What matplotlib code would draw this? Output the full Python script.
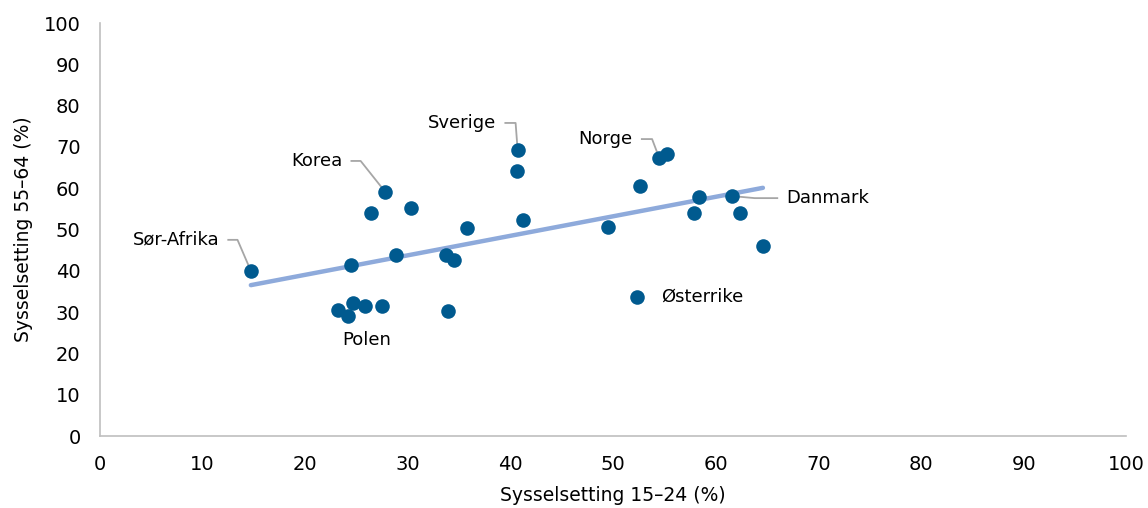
import numpy as np
import matplotlib
matplotlib.use("Agg")
import matplotlib.pyplot as plt

# sysselsetting 15-24 (x) og 55-64 (y), prosent
young = [14.7, 24.5, 23.2, 24.2, 24.7, 25.8, 27.5, 27.8, 26.4, 30.3,
         28.8, 33.7, 34.5, 33.9, 35.8, 40.7, 40.6, 41.2, 49.5, 52.3,
         52.6, 54.5, 55.3, 58.4, 57.9, 61.6, 62.4, 64.6]
old = [40.0, 41.4, 30.5, 29.0, 32.2, 31.5, 31.5, 59.1, 54.0, 55.2,
       43.8, 43.8, 42.6, 30.3, 50.4, 69.2, 64.2, 52.3, 50.6, 33.7,
       60.5, 67.3, 68.3, 57.9, 54.0, 58.1, 54.0, 46.0]

ticks = list(range(0, 101, 10))

plt.rcParams['font.family'] = ['DejaVu Sans']

fig = plt.figure(figsize=(11.48, 5.08), dpi=100)
ax = fig.add_axes([0.0871, 0.1417, 0.981 - 0.0871, 0.9547 - 0.1417])

dot = '#005A8F'
lead = '#A6A6A6'

# lineær trendlinje
x = np.array(young)
y = np.array(old)
k, m = np.polyfit(x, y, 1)
xs = np.array([x.min(), x.max()])
ax.plot(xs, k * xs + m, color='#8EAADB', lw=3.2, zorder=2, solid_capstyle='round')

# ledelinjer for navngitte land: (indeks, tekst, tekstpos, knekkpunkt, ha)
labels = [
    (0, 'Sør-Afrika', (11.6, 47.5), (13.4, 47.5), 'right'),
    (7, 'Korea', (23.6, 66.6), (25.4, 66.6), 'right'),
    (15, 'Sverige', (38.6, 75.8), (40.5, 75.8), 'right'),
    (21, 'Norge', (51.9, 71.9), (53.8, 71.9), 'right'),
    (25, 'Danmark', (66.9, 57.6), (63.8, 57.6), 'left'),
]
for i, name, tpos, knee, ha in labels:
    start = tpos[0] + (0.9 if ha == 'right' else -0.9)
    ax.plot([start, knee[0], young[i]], [tpos[1], knee[1], old[i]],
            color=lead, lw=1.3, zorder=1)
    ax.text(tpos[0], tpos[1], name, ha=ha, va='center', fontsize=13)

ax.text(26.0, 23.2, 'Polen', ha='center', va='center', fontsize=13)
ax.text(54.7, 33.7, 'Østerrike', ha='left', va='center', fontsize=13)

ax.scatter(young, old, s=110, color=dot, zorder=3, linewidths=0)

ax.set_xlim(0, 100)
ax.set_ylim(0, 100)
ax.set_xticks(ticks)
ax.set_yticks(ticks)
ax.tick_params(length=0, labelsize=14, pad=14)
for s in ['top', 'right']:
    ax.spines[s].set_visible(False)
for s in ['left', 'bottom']:
    ax.spines[s].set_color('#BFBFBF')
    ax.spines[s].set_linewidth(1.2)

ax.set_xlabel('Sysselsetting 15–24 (%)', fontsize=13.5, labelpad=8)
ax.set_ylabel('Sysselsetting 55–64 (%)', fontsize=13.5, labelpad=8)

fig.savefig('out.png', dpi=100)
